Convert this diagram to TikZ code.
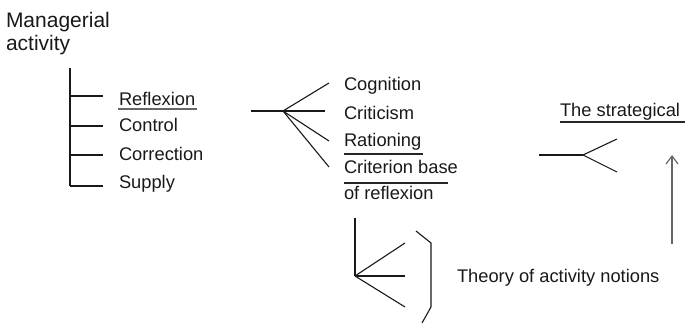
\documentclass[tikz,border=0pt]{standalone}
\usepackage{fontspec}
\setmainfont{Liberation Sans}
\usetikzlibrary{arrows.meta}
\tikzset{
  lbl/.style={anchor=base west, inner sep=0pt, outer sep=0pt, font=\fontsize{18.3}{22}\selectfont, text=black!90},
  big/.style={lbl, font=\fontsize{21}{25}\selectfont},
  ln/.style={draw=black!90, line width=1.1pt},
  ul/.style={draw=black!85, line width=1.1pt},
  greyln/.style={draw=black!60, line width=1.2pt},
}
\begin{document}
\begin{tikzpicture}[x=1pt,y=-1pt]
\useasboundingbox (0,0) rectangle (686,323);

% heading
\node[big] (mgr) at (6,28) {Managerial};
\node[big] (act) at (6,51) {activity};

% first tree: functions of managerial activity
\node[lbl] (refl) at (119,106) {Reflexion};
\node[lbl] (ctrl) at (119,132) {Control};
\node[lbl] (corr) at (119,161) {Correction};
\node[lbl] (supp) at (119,189) {Supply};
\coordinate (t0) at (70,68);
\coordinate (t1) at (70,96);
\coordinate (t2) at (70,126);
\coordinate (t3) at (70,155);
\coordinate (t4) at (70,186);
\draw[ln] (t0) -- (t4);
\draw[ln] (t1) -- ++(33,0);
\draw[ln] (t2) -- ++(33,0);
\draw[ln] (t3) -- ++(33,0);
\draw[ln] (t4) -- ++(33,0);
\draw[greyln] (118,109) -- (197,109);

% second fan: kinds of reflexion
\node[lbl] (cogn) at (344,91) {Cognition};
\node[lbl] (crit) at (344,120) {Criticism};
\node[lbl] (rati) at (344,147) {Rationing};
\node[lbl] (crib) at (344,174) {Criterion base};
\node[lbl] (ofre) at (344,200) {of reflexion};
\coordinate (f0) at (251,111);
\coordinate (f1) at (283,111);
\draw[ln] (f0) -- (f1);
\draw[ln] (f1) -- (329,83);
\draw[ln] (f1) -- (325,111);
\draw[ln] (f1) -- (329,141);
\draw[ln] (f1) -- (329,167);
\draw[ul] (344,154) -- (423,154);
\draw[ul] (344,183) -- (448,183);

% third fan and the strategical level
\node[lbl] (strat) at (560,117) {The strategical};
\draw[ul] (560,122) -- (685,122);
\coordinate (g0) at (539,155);
\coordinate (g1) at (583,155);
\draw[ln] (g0) -- (g1);
\draw[ln] (g1) -- (617,139);
\draw[ln] (g1) -- (617,172);
\coordinate (a0) at (672,244);
\coordinate (a1) at (672,155);
\draw[greyln, -{Straight Barb[length=8pt, width=12pt, line width=1.2pt]}] (a0) -- (a1);

% bottom fan with bracket
\node[lbl] (theo) at (457,283) {Theory of activity notions};
\coordinate (h0) at (355,218);
\coordinate (h1) at (355,276);
\draw[ln] (h0) -- (h1);
\draw[ln] (h1) -- (405,243);
\draw[ln] (h1) -- (405,276);
\draw[ln] (h1) -- (405,307);
\draw[ln] (416,231) -- (431,243) -- (431,307) -- (422,323);
\end{tikzpicture}
\end{document}
